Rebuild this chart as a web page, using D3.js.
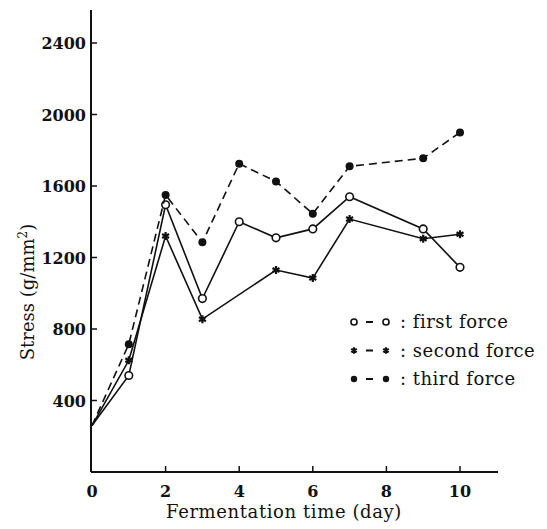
<!DOCTYPE html>
<html>
<head>
<meta charset="utf-8">
<script src="https://cdn.jsdelivr.net/npm/d3@7"></script>
<style>
body { margin: 0; background: #fff; }
text { font-family: "DejaVu Serif", "Liberation Serif", serif; fill: #111; }
</style>
</head>
<body>
<script>
// values
var firstDays = [0, 1, 2, 3, 4, 5, 6, 7, 9, 10];
var firstForce = [260, 540, 1495, 970, 1400, 1310, 1360, 1540, 1360, 1145];
var secondDays = [0, 1, 2, 3, 5, 6, 7, 9, 10];
var secondForce = [260, 625, 1320, 855, 1130, 1085, 1415, 1305, 1330];
var thirdDays = [0, 1, 2, 3, 4, 5, 6, 7, 9, 10];
var thirdForce = [260, 715, 1550, 1285, 1725, 1625, 1445, 1710, 1755, 1900];
var xTicks = [0, 2, 4, 6, 8, 10];
var yTicks = [400, 800, 1200, 1600, 2000, 2400];
var legendLabels = ["first force", "second force", "third force"];

var width = 547, height = 529;
var svg = d3.select("body").append("svg")
  .attr("width", width)
  .attr("height", height);

var x = d3.scaleLinear().domain([0, 10]).range([92, 460]);
var y = d3.scaleLinear().domain([0, 2400]).range([472, 43]);

// axes lines
svg.append("line")
  .attr("x1", 91).attr("x2", 91)
  .attr("y1", 10).attr("y2", 472)
  .attr("stroke", "#111").attr("stroke-width", 2);
svg.append("line")
  .attr("x1", 91).attr("x2", 498)
  .attr("y1", 472).attr("y2", 472)
  .attr("stroke", "#111").attr("stroke-width", 2);

// ticks pointing inward
svg.selectAll(".xt").data(xTicks.filter(function(d) { return d > 0; }))
  .enter().append("line")
  .attr("x1", function(d) { return x(d); })
  .attr("x2", function(d) { return x(d); })
  .attr("y1", 472).attr("y2", 466)
  .attr("stroke", "#111").attr("stroke-width", 1.5);
svg.selectAll(".xl").data(xTicks)
  .enter().append("text")
  .attr("x", function(d) { return x(d); })
  .attr("y", 497)
  .attr("text-anchor", "middle")
  .attr("font-size", 16)
  .attr("font-weight", "bold")
  .text(function(d) { return d; });

svg.selectAll(".yt").data(yTicks)
  .enter().append("line")
  .attr("x1", 91).attr("x2", 97)
  .attr("y1", function(d) { return y(d); })
  .attr("y2", function(d) { return y(d); })
  .attr("stroke", "#111").attr("stroke-width", 1.5);
svg.selectAll(".yl").data(yTicks)
  .enter().append("text")
  .attr("x", 86)
  .attr("y", function(d) { return y(d) + 6; })
  .attr("text-anchor", "end")
  .attr("font-size", 16)
  .attr("font-weight", "bold")
  .text(function(d) { return d; });

// axis titles
svg.append("text")
  .attr("x", 284)
  .attr("y", 518)
  .attr("text-anchor", "middle")
  .attr("font-size", 18)
  .attr("letter-spacing", 0.6)
  .text("Fermentation time (day)");

var yTitle = svg.append("text")
  .attr("transform", "translate(34,292) rotate(-90)")
  .attr("text-anchor", "middle")
  .attr("font-size", 18);
yTitle.append("tspan").text("Stress (g/mm");
yTitle.append("tspan").attr("dy", -7).attr("font-size", 12).text("2");
yTitle.append("tspan").attr("dy", 7).text(")");

function pts(days, vals) {
  return days.map(function(d, i) { return [d, vals[i]]; });
}
var line = d3.line()
  .x(function(d) { return x(d[0]); })
  .y(function(d) { return y(d[1]); });

var series = [
  { data: pts(firstDays, firstForce), dash: null, mark: "open" },
  { data: pts(secondDays, secondForce), dash: null, mark: "star" },
  { data: pts(thirdDays, thirdForce), dash: "8,5", mark: "dot" }
];

function drawMark(g, kind, cx, cy, k) {
  if (kind == "open") {
    g.append("circle").attr("cx", cx).attr("cy", cy).attr("r", 3.8 * k)
      .attr("fill", "#fff").attr("stroke", "#111").attr("stroke-width", 1.6);
  } else if (kind == "dot") {
    g.append("circle").attr("cx", cx).attr("cy", cy).attr("r", 4 * k)
      .attr("fill", "#111");
  } else {
    g.append("path").attr("d", d3.symbol().type(d3.symbolAsterisk).size(45 * k * k)())
      .attr("transform", "translate(" + cx + "," + cy + ")")
      .attr("fill", "none").attr("stroke", "#111").attr("stroke-width", 2.2);
  }
}

series.forEach(function(s) {
  svg.append("path")
    .attr("d", line(s.data))
    .attr("fill", "none")
    .attr("stroke", "#111")
    .attr("stroke-width", 1.6)
    .attr("stroke-dasharray", s.dash);
  var g = svg.append("g");
  s.data.forEach(function(d) {
    if (d[0] > 0) drawMark(g, s.mark, x(d[0]), y(d[1]), 1);
  });
});

// legend
var kinds = ["open", "star", "dot"];
legendLabels.forEach(function(lbl, i) {
  var ly = 328 + i * 28.5;
  var g = svg.append("g");
  drawMark(g, kinds[i], 354, ly - 6, 0.8);
  g.append("line").attr("x1", 366).attr("x2", 373)
    .attr("y1", ly - 6).attr("y2", ly - 6)
    .attr("stroke", "#111").attr("stroke-width", 2);
  drawMark(g, kinds[i], 386, ly - 6, 0.8);
  g.append("text")
    .attr("x", 400).attr("y", ly)
    .attr("font-size", 18)
    .attr("letter-spacing", 0.5)
    .text(": " + lbl);
});
</script>
</body>
</html>
